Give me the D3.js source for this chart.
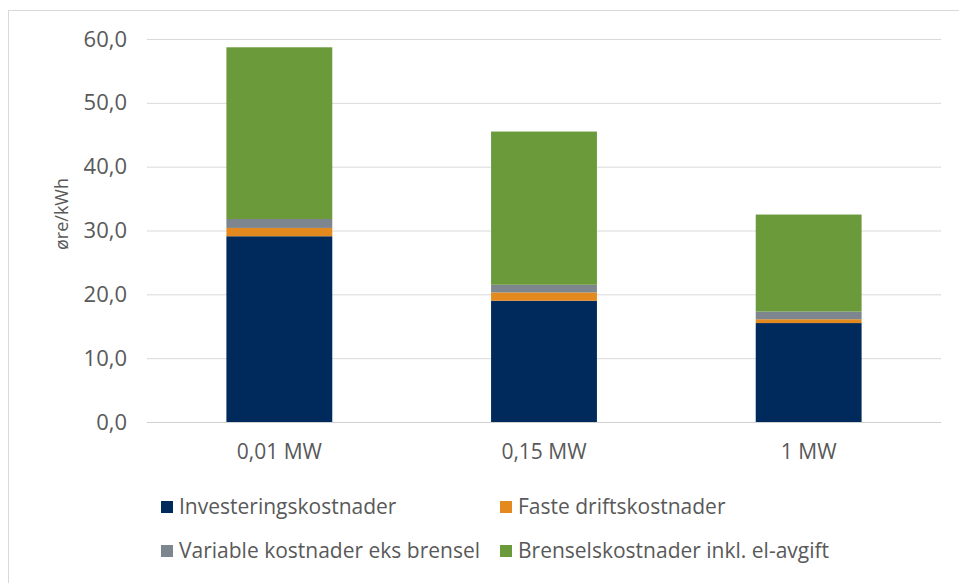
<!DOCTYPE html>
<html><head><meta charset="utf-8">
<script src="https://cdnjs.cloudflare.com/ajax/libs/d3/7.8.5/d3.min.js"></script>
<style>body{margin:0;background:#fff;} svg{display:block;}</style>
</head><body>
<svg id="c" width="959" height="583"></svg>
<script>
const categories = ["0,01 MW", "0,15 MW", "1 MW"];
const seriesNames = ["Investeringskostnader", "Faste driftskostnader", "Variable kostnader eks brensel", "Brenselskostnader inkl. el-avgift"];
const investering = [29.1, 19.0, 15.5];
const faste = [1.3, 1.3, 0.6];
const variable = [1.4, 1.2, 1.2];
const brensel = [26.9, 24.0, 15.2];
const yTicks = [0, 10, 20, 30, 40, 50, 60];
const colors = ["#002A5C", "#E3891E", "#7D858E", "#6A9A3A"];
const yLabel = "øre/kWh";

(function () {
const font = "'Open Sans', 'Liberation Sans', sans-serif";
const txt = "#595959";
const svg = d3.select("#c");
svg.append("rect").attr("x", 8.5).attr("y", 10.5).attr("width", 960).attr("height", 600)
  .attr("fill", "#fff").attr("stroke", "#d9d9d9");

const pl = 147, pr = 941, pt = 39, pb = 422;
const x = d3.scaleBand().domain(categories).range([pl, pr]).paddingInner(0.6).paddingOuter(0.3);
const y = d3.scaleLinear().domain([0, 60]).range([pb, pt]);

const yAxis = d3.axisLeft(y).tickValues(yTicks).tickSize(-(pr - pl)).tickPadding(20)
  .tickFormat(d => d3.format(".1f")(d).replace(".", ","));
const gy = svg.append("g").attr("transform", `translate(${pl},0)`).call(yAxis);
gy.select(".domain").remove();
gy.selectAll(".tick line").attr("stroke", "#d9d9d9").attr("stroke-width", 1);
gy.selectAll(".tick text").attr("fill", txt).style("font-family", font).style("font-size", "22px");

const data = categories.map((c, i) => ({cat: c, v: [investering[i], faste[i], variable[i], brensel[i]]}));
const stacked = d3.stack().keys([0, 1, 2, 3]).value((d, k) => d.v[k])(data);

svg.append("g").selectAll("g").data(stacked).join("g")
  .attr("fill", (d, i) => colors[i])
  .selectAll("rect").data(d => d).join("rect")
  .attr("x", d => x(d.data.cat)).attr("width", x.bandwidth())
  .attr("y", d => y(d[1])).attr("height", d => y(d[0]) - y(d[1]));

const xAxis = d3.axisBottom(x).tickSize(0).tickPadding(22);
const gx = svg.append("g").attr("transform", `translate(0,${pb})`).call(xAxis);
gx.select(".domain").attr("stroke", "#d0d0d0").attr("d", `M${pl},0.5H${pr}`);
gx.selectAll(".tick text").attr("fill", txt).style("font-family", font).style("font-size", "21px");

svg.append("text").attr("transform", "translate(68,214) rotate(-90)")
  .attr("text-anchor", "middle").attr("fill", txt)
  .style("font-family", font).style("font-size", "18px").text(yLabel);

const legPos = [[161, 507], [500, 507], [161, 551], [500, 551]];
const leg = svg.append("g").selectAll("g").data(seriesNames).join("g")
  .attr("transform", (d, i) => `translate(${legPos[i][0]},${legPos[i][1]})`);
leg.append("rect").attr("x", 0).attr("y", -6).attr("width", 12).attr("height", 12)
  .attr("fill", (d, i) => colors[i]);
leg.append("text").attr("x", 18).attr("y", 0).attr("dy", "0.35em").attr("fill", txt)
  .style("font-family", font).style("font-size", "21px").text(d => d);
})();
</script>
</body></html>
